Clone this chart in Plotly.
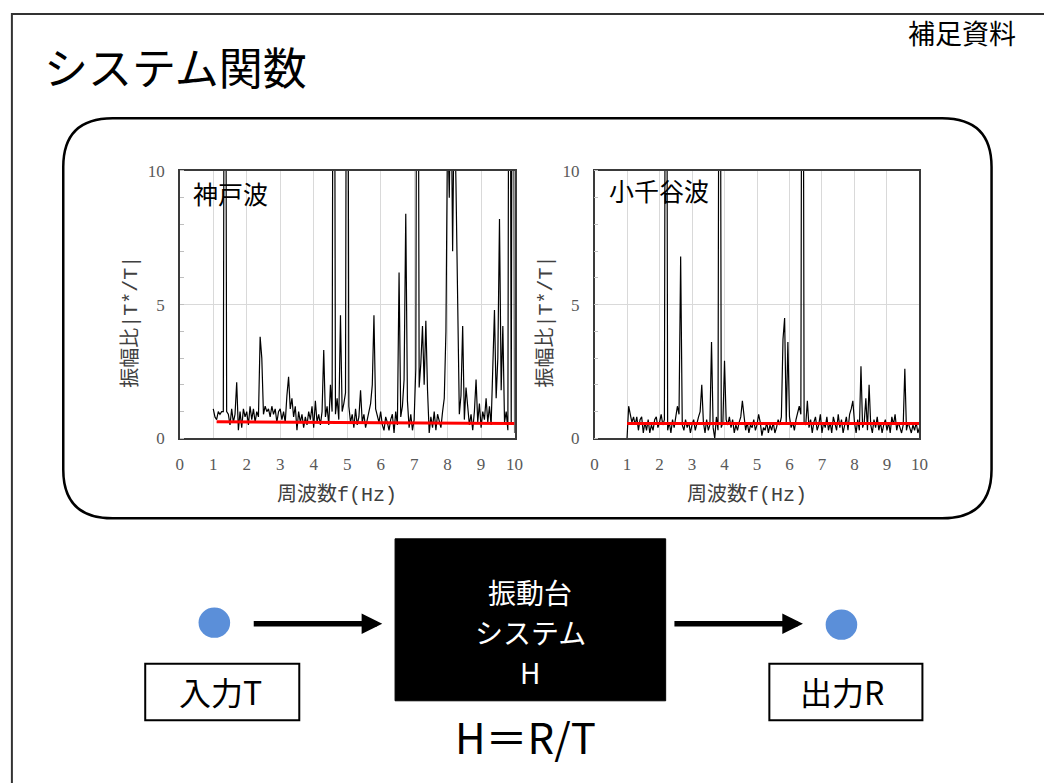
import numpy as np
import plotly.graph_objects as go

W, H = 1044, 783

# frequency axis of the spectra (Hz), 0.05 Hz step from 1 to 10
freq = np.round(np.arange(1.0, 10.0001, 0.05), 2)

# amplitude ratio |T*/T| for the Kobe wave (one row per Hz)
kobe = (
    [1.1, 0.8, 0.7, 1.0, 0.9, 1.0, 1.0, 30, 1.0, 0.9, 0.5, 1.1, 0.6, 0.9, 2.1, 0.3, 1.0, 0.4, 1.1, 0.8]
    + [1.0, 0.5, 1.2, 0.7, 1.1, 0.6, 1.0, 0.8, 3.8, 3.0, 0.9, 1.2, 1.0, 1.1, 0.8, 1.2, 0.9, 1.1, 0.6, 1.0]
    + [1.1, 0.7, 1.0, 0.6, 1.6, 2.3, 1.1, 1.5, 0.8, 1.2, 0.3, 1.0, 0.6, 0.9, 0.4, 0.8, 0.5, 1.0, 0.7, 1.2]
    + [0.4, 1.4, 0.6, 0.9, 0.5, 1.0, 3.3, 0.8, 1.2, 0.5, 2.0, 1.0, 30, 0.9, 1.5, 0.7, 4.6, 1.0, 1.3, 1.7]
    + [30, 1.2, 0.6, 0.9, 0.4, 1.1, 0.5, 0.8, 1.8, 0.6, 0.9, 0.4, 0.7, 1.0, 1.3, 2.0, 4.6, 1.1, 0.8, 0.6]
    + [1.0, 0.5, 0.3, 0.8, 0.6, 0.3, 0.7, 0.9, 0.2, 1.0, 0.5, 6.2, 0.8, 1.2, 2.2, 8.4, 1.4, 0.4, 0.9, 0.3]
    + [0.7, 2.6, 30, 1.9, 2.8, 4.2, 2.0, 4.4, 1.8, 0.2, 0.8, 0.4, 1.0, 0.3, 0.9, 0.6, 0.4, 1.0, 1.5, 4.0]
    + [12, 9.0, 14, 7.0, 13, 9.5, 5.0, 0.9, 1.6, 4.2, 0.7, 1.9, 1.2, 0.5, 0.9, 0.3, 1.0, 2.2, 0.6, 1.3]
    + [0.4, 1.0, 0.7, 1.5, 0.6, 1.2, 0.5, 2.4, 4.8, 1.5, 3.0, 8.2, 1.8, 4.2, 0.6, 1.0, 0.3, 30, 0.5, 30]
    + [0.2]
)

# amplitude ratio |T*/T| for the Ojiya wave
ojiya = (
    [0.0, 1.2, 0.9, 0.6, 0.8, 0.5, 0.8, 0.3, 0.7, 0.8, 0.2, 0.6, 0.3, 0.7, 0.2, 0.5, 0.3, 0.7, 0.8, 0.4]
    + [0.6, 0.9, 0.5, 0.7, 30, 0.3, 0.6, 0.2, 0.7, 0.4, 0.8, 1.2, 0.9, 6.8, 0.5, 0.3, 0.7, 0.4, 0.6, 0.2]
    + [0.5, 0.7, 0.3, 0.6, 0.8, 1.0, 2.0, 0.6, 0.2, 0.7, 0.3, 0.5, 3.6, 0.4, 0.0, 0.8, 0.3, 30, 0.4, 0.6]
    + [2.9, 0.7, 0.5, 0.8, 0.4, 0.7, 0.2, 0.5, 0.3, 0.6, 0.8, 1.4, 0.9, 0.3, 0.6, 0.2, 0.5, 0.4, 0.7, 0.3]
    + [0.5, 0.9, 0.6, 0.1, 0.4, 0.3, 0.6, 0.2, 0.5, 0.3, 0.6, 0.2, 0.4, 0.7, 0.5, 0.8, 3.7, 4.5, 0.6, 3.6]
    + [0.8, 0.4, 0.6, 0.3, 0.7, 1.0, 1.2, 0.9, 30, 0.6, 0.5, 1.4, 0.4, 0.7, 0.2, 0.6, 0.8, 0.3, 0.5, 0.9]
    + [0.2, 0.6, 0.4, 0.8, 0.3, 0.6, 0.2, 0.8, 0.5, 0.3, 0.9, 0.4, 0.7, 0.2, 0.5, 0.8, 0.3, 0.9, 1.1, 1.4]
    + [0.6, 0.2, 0.7, 0.3, 2.7, 0.4, 0.6, 1.5, 0.3, 2.0, 0.5, 0.2, 0.7, 0.4, 0.8, 0.3, 0.6, 0.2, 0.5, 0.7]
    + [0.3, 0.6, 0.2, 0.8, 0.5, 0.9, 0.3, 0.6, 0.4, 0.2, 0.5, 2.6, 0.3, 0.6, 0.4, 0.2, 0.5, 0.3, 0.6, 0.2]
    + [0.4]
)

# mean level lines (red)
kobe_mean_f = [1.1, 10.0]
kobe_mean = [0.62, 0.55]
ojiya_mean_f = [1.0, 10.0]
ojiya_mean = [0.55, 0.55]

x_ticks = list(range(0, 11))
y_ticks = [0, 5, 10]
panel_titles = ["神戸波", "小千谷波"]
block_lines = ["振動台", "システム", "H"]

JP = "Noto Sans CJK JP"
NUM = "Liberation Serif"
MONO = "Liberation Mono"

# axis titles: kanji in the CJK face, half-width part in a monospace face
x_title = f"周波数<span style='font-family:{MONO}'>f(Hz)</span>"
y_title = f"振幅比<span style='font-family:{MONO}'>|T*/T|</span>"


def px(x):
    return x / W


def py(y):
    return 1 - y / H


fig = go.Figure()

fig.add_trace(go.Scatter(x=freq, y=kobe, mode="lines", line=dict(color="black", width=1.2),
                         xaxis="x", yaxis="y", showlegend=False))
fig.add_trace(go.Scatter(x=kobe_mean_f, y=kobe_mean, mode="lines", line=dict(color="#ff0000", width=3),
                         xaxis="x", yaxis="y", showlegend=False))
fig.add_trace(go.Scatter(x=freq, y=ojiya, mode="lines", line=dict(color="black", width=1.2),
                         xaxis="x2", yaxis="y2", showlegend=False))
fig.add_trace(go.Scatter(x=ojiya_mean_f, y=ojiya_mean, mode="lines", line=dict(color="#ff0000", width=3),
                         xaxis="x2", yaxis="y2", showlegend=False))

panels = [(178, 517), (598, 927)]
top, bottom = 166, 440

axis_common = dict(
    showline=True, linecolor="#3a3a3a", linewidth=1.5, mirror=True,
    showgrid=True, gridcolor="#d9d9d9", gridwidth=1, zeroline=False,
    tickfont=dict(family=NUM, size=17, color="#595959"),
    ticks="", ticklabelstandoff=10, fixedrange=True,
)

for i, (l, r) in enumerate(panels):
    sx = "" if i == 0 else str(i + 1)
    fig.update_layout(**{
        f"xaxis{sx}": dict(axis_common, domain=[px(l), px(r)], range=[0, 10], tickvals=x_ticks,
                           anchor=f"y{sx}"),
        f"yaxis{sx}": dict(axis_common, domain=[py(bottom), py(top)], range=[0, 10], tickvals=y_ticks,
                           anchor=f"x{sx}",
                           minor=dict(tickvals=list(range(0, 11)), ticks="inside", ticklen=4,
                                      tickcolor="#bfbfbf", showgrid=False)),
    })

shapes = []
annotations = []

# slide frame
shapes.append(dict(type="rect", xref="paper", yref="paper", x0=px(8), x1=px(1060), y0=py(5), y1=py(800),
                   line=dict(color="#333333", width=2)))

# rounded frame around the two charts
L, R, T, B, rad = 60, 1000, 112, 522, 50
path = (f"M {px(L + rad)},{py(T)} L {px(R - rad)},{py(T)} "
        f"Q {px(R)},{py(T)} {px(R)},{py(T + rad)} L {px(R)},{py(B - rad)} "
        f"Q {px(R)},{py(B)} {px(R - rad)},{py(B)} L {px(L + rad)},{py(B)} "
        f"Q {px(L)},{py(B)} {px(L)},{py(B - rad)} L {px(L)},{py(T + rad)} "
        f"Q {px(L)},{py(T)} {px(L + rad)},{py(T)} Z")
shapes.append(dict(type="path", xref="paper", yref="paper", path=path, line=dict(color="black", width=2.5)))

# system block
shapes.append(dict(type="rect", xref="paper", yref="paper", x0=px(396), x1=px(670), y0=py(543), y1=py(709),
                   fillcolor="black", line=dict(color="black", width=1)))

# input / output points
for cx, cy in [(213, 629), (848, 631)]:
    shapes.append(dict(type="circle", xref="paper", yref="paper", x0=px(cx - 16), x1=px(cx + 16),
                       y0=py(cy - 15.5), y1=py(cy + 15.5), fillcolor="#5B8FD9", line=dict(width=0)))

# label boxes
for x0, x1 in [(143, 299), (775, 930)]:
    shapes.append(dict(type="rect", xref="paper", yref="paper", x0=px(x0), x1=px(x1), y0=py(671), y1=py(729),
                       line=dict(color="black", width=2)))

# arrows
for xs, xe, yy in [(253, 383, 630), (679, 809, 630)]:
    annotations.append(dict(xref="paper", yref="paper", x=px(xe), y=py(yy), ax=xs - xe, ay=0,
                            axref="pixel", ayref="pixel", text="", showarrow=True,
                            arrowhead=2, arrowsize=0.75, arrowwidth=5.5, arrowcolor="black"))


def text(x, y, s, size, color="black", family=JP, xanchor="center", angle=0):
    annotations.append(dict(xref="paper", yref="paper", x=px(x), y=py(y), text=s, showarrow=False,
                            xanchor=xanchor, yanchor="middle", textangle=angle,
                            font=dict(family=family, size=size, color=color)))


text(38, 58, "システム関数", 44, xanchor="left")
text(970, 24, "補足資料", 27)

text(189, 189, panel_titles[0], 25, xanchor="left")
text(611, 186, panel_titles[1], 25, xanchor="left")

for (l, r) in panels:
    text((l + r) / 2 - 10, 496, x_title, 20, color="#404040")
    text(l - 52, 320, y_title, 20, color="#404040", angle=-90)

# three lines inside the system block
for k, s in enumerate(block_lines):
    text(533, 597 + 41 * k, s, 28, color="white")

text(219, 699, "入力T", 32)
text(849, 699, "出力R", 32)
text(528, 745, "H＝R/T", 42)

fig.update_layout(
    width=W, height=H, margin=dict(l=0, r=0, t=0, b=0),
    paper_bgcolor="white", plot_bgcolor="white",
    shapes=shapes, annotations=annotations, showlegend=False,
)

fig.write_html("out.html")
